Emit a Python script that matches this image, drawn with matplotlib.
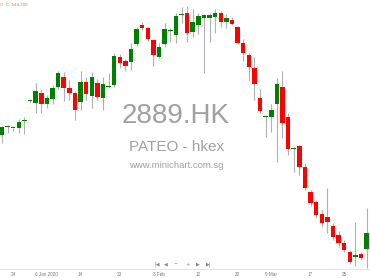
import numpy as np
import matplotlib
matplotlib.use('Agg')
import matplotlib.pyplot as plt

# daily candles, 2889.HK (PATEO - hkex)
opens = [1.65, 1.725, 1.715, 1.72, 1.785, 1.985, 1.97, 2.07, 1.96, 2.01,
         2.13, 2.23, 2.12, 2.07, 1.98, 2.18, 2.04, 2.17, 2.02, 2.13,
         2.15, 2.43, 2.39, 2.38, 2.56, 2.75, 2.72, 2.60, 2.43, 2.56,
         2.685, 2.65, 2.845, 2.87, 2.68, 2.75, 2.82, 2.82, 2.83, 2.87,
         2.78, 2.80, 2.73, 2.57, 2.45, 2.32, 2.02, 1.825, 1.83, 1.96,
         2.13, 1.83, 1.51, 1.54, 1.33, 1.08, 0.98, 0.86, 0.83, 0.74,
         0.65, 0.57, 0.48, 0.43, 0.46, 0.51]
highs = [1.74, 1.75, 1.72, 1.81, 1.83, 2.00, 2.17, 2.11, 2.05, 2.15,
         2.29, 2.28, 2.20, 2.09, 2.29, 2.23, 2.28, 2.21, 2.23, 2.27,
         2.47, 2.46, 2.41, 2.57, 2.73, 2.78, 2.73, 2.61, 2.57, 2.77,
         2.72, 2.87, 2.93, 2.94, 2.91, 2.87, 2.86, 2.87, 2.91, 2.89,
         2.86, 2.83, 2.74, 2.61, 2.47, 2.43, 2.11, 1.835, 1.96, 2.22,
         2.29, 1.87, 1.53, 1.55, 1.37, 1.10, 1.00, 0.90, 1.12, 0.77,
         0.69, 0.60, 0.50, 0.78, 0.48, 0.92]
lows = [1.57, 1.67, 1.69, 1.67, 1.66, 1.98, 1.87, 1.87, 1.92, 1.96,
        2.11, 1.99, 2.00, 1.80, 1.90, 2.00, 1.92, 2.00, 1.90, 2.12,
        2.13, 2.32, 2.29, 2.30, 2.54, 2.70, 2.59, 2.34, 2.42, 2.53,
        2.58, 2.57, 2.77, 2.58, 2.63, 2.66, 2.27, 2.58, 2.67, 2.73,
        2.72, 2.75, 2.56, 2.39, 2.19, 2.00, 1.87, 1.63, 1.68, 1.38,
        1.62, 1.45, 1.28, 1.25, 1.10, 0.94, 0.82, 0.73, 0.67, 0.60,
        0.53, 0.48, 0.36, 0.34, 0.40, 0.32]
closes = [1.73, 1.74, 1.72, 1.78, 1.79, 1.995, 2.09, 1.96, 2.02, 2.12,
          2.27, 2.12, 2.07, 1.90, 2.18, 2.06, 2.23, 2.03, 2.16, 2.14,
          2.44, 2.37, 2.34, 2.51, 2.71, 2.72, 2.61, 2.45, 2.53, 2.71,
          2.695, 2.84, 2.855, 2.67, 2.78, 2.84, 2.85, 2.85, 2.87, 2.78,
          2.82, 2.76, 2.57, 2.47, 2.33, 2.16, 1.89, 1.835, 1.90, 2.16,
          1.77, 1.51, 1.52, 1.33, 1.12, 0.97, 0.85, 0.77, 0.78, 0.63,
          0.57, 0.50, 0.38, 0.45, 0.42, 0.67]

tick_idx = [2, 8, 14, 21, 28, 35, 42, 48, 55, 61]
tick_labels = ['24', '6 Jan 2020', '14', '23', '3 Feb', '12', '20', '9 Mar', '17', '25']

o = np.array(opens)
h = np.array(highs)
l = np.array(lows)
c = np.array(closes)
x = np.arange(len(o))
up = c >= o

fig = plt.figure(figsize=(3.7, 2.78), dpi=100)
ax = fig.add_axes([0, 9 / 278, 1, 269 / 278])

ax.vlines(x, l, h, color='#b0b0b0', linewidth=0.8, zorder=1)
body = np.maximum(np.abs(c - o), 0.012)
ax.bar(x, body, bottom=np.minimum(o, c), width=0.8,
       color=np.where(up, '#008000', '#ff0000'), linewidth=0, zorder=2)

ax.set_xlim(-0.36, 65.6)
ax.set_ylim(0.31, 3.00)
ax.set_yticks([])
ax.set_xticks(tick_idx)
ax.set_xticklabels(tick_labels, fontsize=3.3, color='#777777',
                   family='Liberation Sans')
ax.tick_params(axis='x', length=0, pad=2.5)
for s in ['top', 'left', 'right']:
    ax.spines[s].set_visible(False)
ax.spines['bottom'].set_color('#dddddd')
ax.spines['bottom'].set_linewidth(0.6)

# watermark
ax.text(0.476, 0.567, '2889.HK', transform=ax.transAxes, ha='center', va='center',
        fontsize=20, color='#a0a0a0', family='Liberation Sans', zorder=0)
ax.text(0.476, 0.452, 'PATEO - hkex', transform=ax.transAxes, ha='center', va='center',
        fontsize=11, color='#a0a0a0', family='Liberation Sans', zorder=0)
ax.text(0.476, 0.383, 'www.minichart.com.sg', transform=ax.transAxes, ha='center',
        va='center', fontsize=6.8, color='#a0a0a0', family='Liberation Sans', zorder=0)

# OHLC readout
ax.text(0.0, 0.982, 'O  C: 144.200', transform=ax.transAxes, ha='left', va='center',
        fontsize=3.2, color='#ff6666', family='Liberation Sans')

# navigation buttons
nav = ['|\u25c0', '\u25c0', '\u2212', '+', '\u25b6', '\u25b6|']
nav_x = [157, 166, 176, 188, 198, 209]
for t, px in zip(nav, nav_x):
    fig.text(px / 370, 1 - 264 / 278, t, ha='center', va='center',
             fontsize=3.5, color='#888888', family='DejaVu Sans')

fig.savefig('out.png', dpi=100)
